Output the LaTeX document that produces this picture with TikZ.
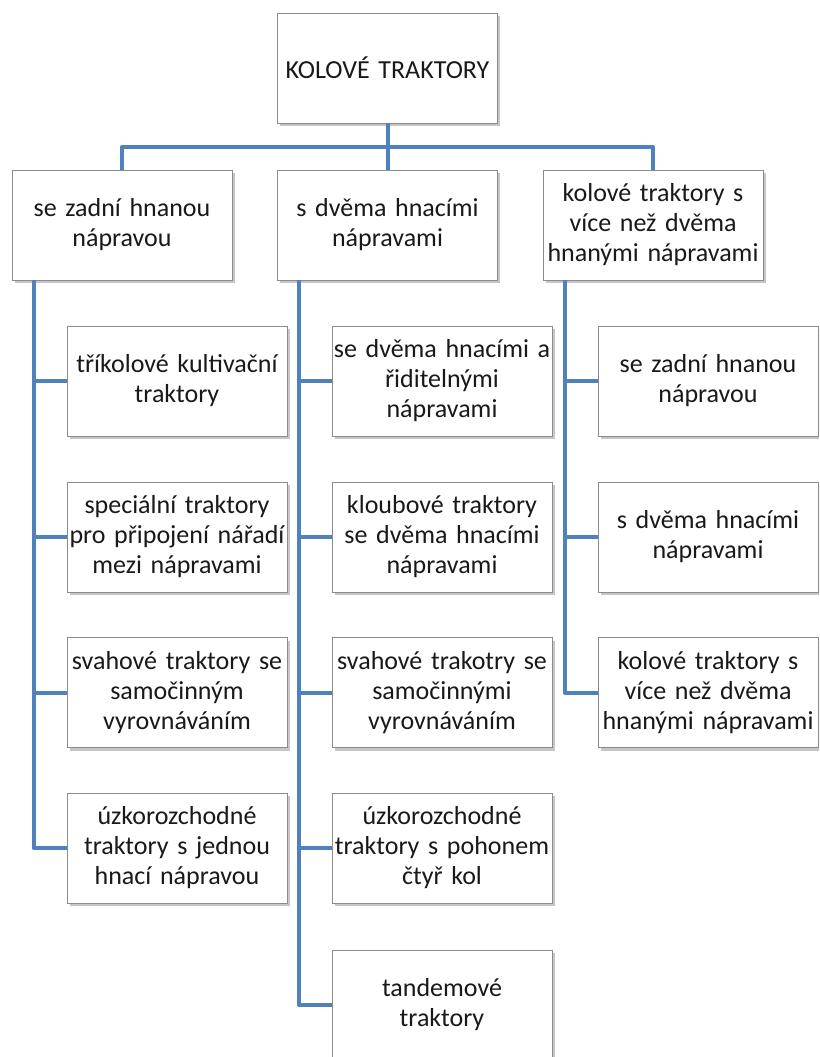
\documentclass[tikz,border=0pt]{standalone}
\usepackage{fontspec}
\setmainfont{Carlito}[WordSpace=0.55]
\usetikzlibrary{shadows}

\definecolor{spoj}{RGB}{79,129,189}
\definecolor{ramec}{RGB}{140,140,140}

\newcommand\kfont{\fontsize{26}{30}\selectfont}

\tikzset{
    kbox/.style={draw=ramec, fill=white, line width=0.9pt,
        minimum width=220pt, minimum height=110pt, text width=220pt,
        inner sep=0pt, align=center, text=black!90, font=\kfont,
        drop shadow={opacity=0.45, shadow xshift=2.5pt, shadow yshift=-3pt}},
    link/.style={draw=spoj, line width=4pt, line join=round}
}

\newcommand\kolbox[4]{
    \node[kbox] (#1) at (#2,#3) {#4};
}

\begin{document}
\begin{tikzpicture}[x=1pt, y=-1pt]
    \clip (0,0) rectangle (819,1057);

    \kolbox{kt}{387.5}{68}{KOLOVÉ TRAKTORY}

    \kolbox{zn}{122}{225}{se zadní hnanou\\ nápravou}
    \kolbox{dn}{387.5}{225}{s dvěma hnacími\\ nápravami}
    \kolbox{vn}{653}{225}{kolové traktory s\\ více než dvěma\\ hnanými nápravami}

    % se zadni hnanou napravou
    \kolbox{zn1}{177}{381}{tříkolové kultivační\\ traktory}
    \kolbox{zn2}{177}{537}{speciální traktory\\ pro připojení nářadí\\ mezi nápravami}
    \kolbox{zn3}{177}{692.5}{svahové traktory se\\ samočinným\\ vyrovnáváním}
    \kolbox{zn4}{177}{848}{úzkorozchodné\\ traktory s jednou\\ hnací nápravou}

    % s dvema hnacimi napravami
    \kolbox{dn1}{442}{381}{se dvěma hnacími a\\ řiditelnými\\ nápravami}
    \kolbox{dn2}{442}{537}{kloubové traktory\\ se dvěma hnacími\\ nápravami}
    \kolbox{dn3}{442}{692.5}{svahové trakotry se\\ samočinnými\\ vyrovnáváním}
    \kolbox{dn4}{442}{848}{úzkorozchodné\\ traktory s pohonem\\ čtyř kol}
    \kolbox{dn5}{442}{1005}{tandemové\\ traktory}

    % vice nez dvema
    \kolbox{vn1}{708}{381}{se zadní hnanou\\ nápravou}
    \kolbox{vn2}{708}{537}{s dvěma hnacími\\ nápravami}
    \kolbox{vn3}{708}{692.5}{kolové traktory s\\ více než dvěma\\ hnanými nápravami}

    % spoje
    \coordinate (bar) at (387.5,147);
    \draw[link] (kt.south) -- (dn.north);
    \draw[link] (zn.north) |- (bar) -| (vn.north);

    \coordinate (zs) at ([xshift=22pt]zn.south west);
    \coordinate (ds) at ([xshift=22pt]dn.south west);
    \coordinate (vs) at ([xshift=22pt]vn.south west);

    \draw[link] (zs) |- (zn4.west);
    \foreach \n in {zn1,zn2,zn3}
        \draw[link] (\n.west) -- (\n.west -| zs);

    \draw[link] (ds) |- (dn5.west);
    \foreach \n in {dn1,dn2,dn3,dn4}
        \draw[link] (\n.west) -- (\n.west -| ds);

    \draw[link] (vs) |- (vn3.west);
    \foreach \n in {vn1,vn2}
        \draw[link] (\n.west) -- (\n.west -| vs);

\end{tikzpicture}
\end{document}
